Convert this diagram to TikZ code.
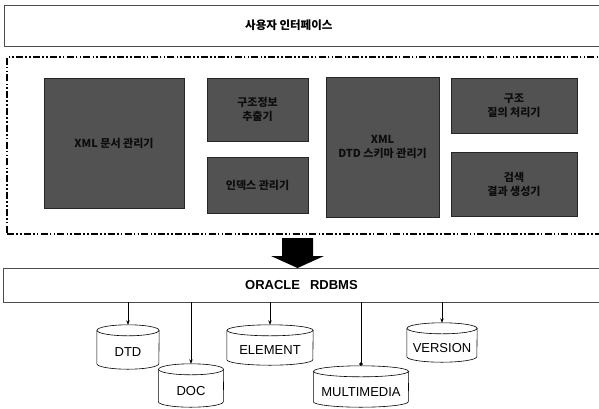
\documentclass[tikz,border=0pt]{standalone}
\usepackage{fontspec}
\setmainfont{Liberation Sans}
\newfontfamily\kr{Noto Sans CJK KR}
\usetikzlibrary{arrows.meta}
\definecolor{inktext}{rgb}{0.05,0.05,0.05}
\newcommand\dbcyl[3]{%
  \fill[white] ([yshift=-#3]#1.north west) -- ([yshift=#3]#1.south west)
    arc[start angle=180,end angle=360,x radius=#2,y radius=#3]
    -- ([yshift=-#3]#1.north east) -- cycle;
  \fill[white] ([yshift=-#3]#1.north) ellipse[x radius=#2,y radius=#3];
  \draw[cylline] ([yshift=-#3]#1.north west) -- ([yshift=#3]#1.south west)
    arc[start angle=180,end angle=360,x radius=#2,y radius=#3]
    -- ([yshift=-#3]#1.north east);
  \draw[cylline] ([yshift=-#3]#1.north) ellipse[x radius=#2,y radius=#3];
}
\newcommand\lowr[1]{\raisebox{-5.5pt}[\height][\depth]{#1}}
\begin{document}
\begin{tikzpicture}[x=1pt,y=-1pt,
  plainbox/.style={draw=black!70,line width=0.6pt,rectangle,inner sep=0pt},
  corebox/.style={draw=black,line width=1.3pt,rectangle,inner sep=0pt,
    dash pattern=on 7pt off 2.2pt on 1.6pt off 2.2pt on 1.6pt off 2.2pt},
  darkbox/.style={rectangle,fill=black!68,draw=black!85,line width=0.6pt,inner sep=0pt},
  darktext/.style={inner sep=0pt,align=center,text=inktext,font=\kr\bfseries\fontsize{11}{14}\selectfont},
  dbnode/.style={rectangle,inner sep=0pt,font=\fontsize{13}{15}\selectfont},
  cylline/.style={draw=black,line width=0.6pt},
  conn/.style={draw=black,line width=0.6pt,-{Stealth[length=4.5pt,width=3.5pt]}},
  dotconn/.style={draw=black,line width=0.6pt,-{Circle[length=3.5pt]}},
  labeltext/.style={inner sep=0pt,anchor=west}]
\clip (0,0) rectangle (599,408);
\fill[white] (0,0) rectangle (599,408);

% user interface bar
\node[plainbox,minimum width=600pt,minimum height=41pt] (ui) at (304,25.5) {};
\node[labeltext,font=\kr\bfseries\fontsize{11.5}{13}\selectfont] (uitext) at (245,25.5) {사용자 인터페이스};

% core dash-dot frame
\node[corebox,minimum width=600pt,minimum height=177pt] (core) at (307,145.5) {};

% dark module boxes
\node[darkbox,minimum width=140pt,minimum height=130pt] (m1) at (114,143) {};
\node[darkbox,minimum width=101pt,minimum height=63pt] (m2a) at (257.5,109.5) {};
\node[darkbox,minimum width=101pt,minimum height=56pt] (m2b) at (257.5,185) {};
\node[darkbox,minimum width=113pt,minimum height=140pt] (m3) at (382.5,147) {};
\node[darkbox,minimum width=126pt,minimum height=55pt] (m4a) at (514,105.5) {};
\node[darkbox,minimum width=126pt,minimum height=64pt] (m4b) at (514,184) {};
\node[darktext] (m1t) at (m1) {XML 문서 관리기};
\node[darktext] (m2at) at (m2a) {구조정보\\추출기};
\node[darktext] (m2bt) at (m2b) {인덱스 관리기};
\node[darktext] (m3t) at (m3) {XML\\DTD 스키마 관리기};
\node[darktext] (m4at) at (m4a) {구조\\질의 처리기};
\node[darktext] (m4bt) at (m4b) {검색\\결과 생성기};

% block arrow
\fill[black] (282,238) -- (313,238) -- (313,256) -- (324,256) -- (297.5,268)
  -- (271,256) -- (282,256) -- cycle;

% Oracle bar
\node[plainbox,minimum width=600pt,minimum height=34pt] (oracle) at (303,285) {};
\node[labeltext,font=\bfseries\fontsize{13}{15}\selectfont] (oratext) at (245,285) {ORACLE\hspace{10pt}RDBMS};

% databases
\node[dbnode,minimum width=62pt,minimum height=44pt] (dtd) at (128,347) {};
\dbcyl{dtd}{31pt}{5.5pt}
\node[dbnode] (dtdt) at (dtd) {\lowr{DTD}};
\node[dbnode,minimum width=65pt,minimum height=43pt] (doc) at (191,385.5) {};
\dbcyl{doc}{32.5pt}{5.5pt}
\node[dbnode] (doct) at (doc) {\lowr{DOC}};
\node[dbnode,minimum width=86pt,minimum height=40pt] (elem) at (270,345) {};
\dbcyl{elem}{43pt}{5.5pt}
\node[dbnode] (elemt) at (elem) {\lowr{ELEMENT}};
\node[dbnode,minimum width=95pt,minimum height=41pt] (mm) at (361,386.5) {};
\dbcyl{mm}{47.5pt}{5.5pt}
\node[dbnode] (mmt) at (mm) {\lowr{MULTIMEDIA}};
\node[dbnode,minimum width=70pt,minimum height=39pt] (ver) at (442,342.5) {};
\dbcyl{ver}{35pt}{5.5pt}
\node[dbnode] (vert) at (ver) {\lowr{VERSION}};

% connectors
\draw[conn] (oracle.south -| dtd.north) -- (dtd.north);
\draw[conn] (oracle.south -| doc.north) -- (doc.north);
\draw[conn] (oracle.south -| elem.north) -- (elem.north);
\draw[dotconn] (oracle.south -| mm.north) -- (mm.north);
\draw[conn] (oracle.south -| ver.north) -- (ver.north);
\end{tikzpicture}
\end{document}
